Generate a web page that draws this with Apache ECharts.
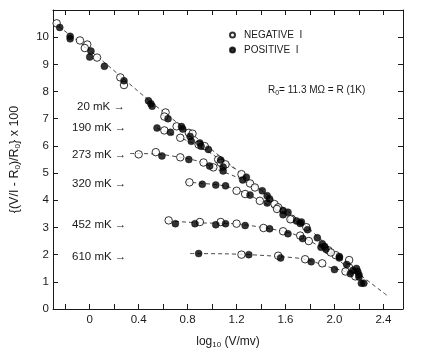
<!DOCTYPE html>
<html>
<head>
<meta charset="utf-8">
<script src="https://cdn.jsdelivr.net/npm/echarts@6/dist/echarts.min.js"></script>
<style>html,body{margin:0;padding:0;background:#fff}#c{width:430px;height:354px}</style>
</head>
<body>
<div id="c"></div>
<script>
// ---- data ----
const xTicks = [-0.2,0,0.2,0.4,0.6,0.8,1.0,1.2,1.4,1.6,1.8,2.0,2.2,2.4];
const xLabels = [0,0.4,0.8,1.2,1.6,2.0,2.4];
const yLabels = [0,1,2,3,4,5,6,7,8,9,10];
const tempLabels = ['20 mK','190 mK','273 mK','320 mK','452 mK','610 mK'];

const fit20mK  = [[-0.3,10.55],[0,9.52],[0.5,7.62],[1.0,5.85],[1.5,4.02],[1.78,3.0],[2.0,2.1],[2.2,1.3],[2.43,0.5]];
const fit190mK = [[0.55,6.66],[0.75,6.28],[0.9,5.98],[1.05,5.55],[1.2,5.12]];
const fit273mK = [[0.33,5.72],[0.55,5.7],[0.75,5.57],[0.9,5.42],[1.05,5.12],[1.2,4.85],[1.4,4.38]];
const fit320mK = [[0.78,4.67],[0.9,4.63],[1.1,4.53],[1.25,4.3],[1.4,3.97],[1.55,3.6],[1.75,3.08]];
const fit452mK = [[0.64,3.24],[0.9,3.17],[1.2,3.13],[1.45,2.97],[1.65,2.78],[1.8,2.5],[1.95,2.08],[2.1,1.55],[2.24,0.95]];
const fit610mK = [[0.82,2.04],[1.1,2.03],[1.3,2.0],[1.55,1.93],[1.76,1.83],[1.95,1.55],[2.1,1.35],[2.24,0.92]];

const negative20mK = [[-0.27,10.51],[-0.08,9.88],[-0.02,9.73],[-0.04,9.6],[0.06,9.25],[0.25,8.52],[0.28,8.24],[0.62,7.23],[0.61,7.08],[0.71,6.72],[0.81,6.48],[0.84,6.45],[0.94,5.99],[1.05,5.5],[1.07,5.38],[1.24,4.96],[1.31,4.62],[1.35,4.47],[1.51,3.86],[1.54,3.74],[1.65,3.32],[1.77,3.01],[1.95,2.16],[2.01,1.98],[2.12,1.8]];
const positive20mK = [[-0.245,10.36],[-0.16,10.03],[-0.16,9.94],[0.01,9.49],[0.0,9.27],[0.12,8.93],[0.28,8.4],[0.48,7.66],[0.5,7.55],[0.51,7.46],[0.64,7.0],[0.75,6.71],[0.76,6.62],[0.82,6.35],[0.9,6.11],[0.91,5.99],[0.97,5.87],[1.09,5.22],[1.25,4.75],[1.28,4.85],[1.41,4.35],[1.45,4.17],[1.47,4.05],[1.58,3.62],[1.62,3.56],[1.69,3.24],[1.73,3.2],[1.78,2.92],[1.86,2.62],[1.9,2.4],[1.92,2.3],[1.93,2.2],[2.04,1.93],[2.1,1.64],[2.18,1.49],[2.19,1.38],[2.2,1.26]];
const negative190mK = [[0.61,6.57],[0.74,6.3],[0.89,6.05],[1.11,5.32]];
const positive190mK = [[0.55,6.66],[0.66,6.5],[0.83,6.17],[1.07,5.48]];
const negative273mK = [[0.4,5.69],[0.54,5.77],[0.74,5.58],[0.93,5.39],[1.01,5.21]];
const positive273mK = [[0.59,5.63],[0.81,5.5],[0.98,5.26],[1.09,5.08]];
const negative320mK = [[0.815,4.66],[1.2,4.35],[1.27,4.23],[1.39,3.98],[1.53,3.68],[1.64,3.3]];
const positive320mK = [[0.92,4.59],[1.03,4.56],[1.11,4.53],[1.31,4.19],[1.45,3.9],[1.58,3.47],[1.72,3.15]];
const negative452mK = [[0.645,3.26],[0.9,3.2],[1.07,3.2],[1.2,3.14],[1.42,2.98],[1.58,2.86],[1.72,2.7],[1.79,2.5],[1.97,2.08],[2.12,1.52]];
const positive452mK = [[0.7,3.14],[0.86,3.14],[1.03,3.1],[1.11,3.14],[1.27,3.07],[1.47,2.95],[1.62,2.77],[1.74,2.59],[1.89,2.27],[2.04,1.88],[2.15,1.42],[2.2,1.18],[2.24,0.95]];
const negative610mK = [[1.24,2.0],[1.54,1.96],[1.76,1.83],[1.9,1.68],[2.09,1.38],[2.17,1.2]];
const positive610mK = [[0.89,2.04],[1.3,2.0],[1.56,1.88],[1.81,1.74],[2.0,1.45],[2.13,1.3],[2.22,0.95]];

// ---- chart ----
const FONT = 'Liberation Sans, Arial, sans-serif';
const INK = '#1a1a1a';
const chart = echarts.init(document.getElementById('c'), null, {renderer: 'canvas'});

const fits = [fit20mK, fit190mK, fit273mK, fit320mK, fit452mK, fit610mK];
const negAll = [].concat(negative20mK, negative190mK, negative273mK, negative320mK, negative452mK, negative610mK);
const posAll = [].concat(positive20mK, positive190mK, positive273mK, positive320mK, positive452mK, positive610mK);

const lineSeries = fits.map(d => ({
  type: 'line', data: d, smooth: 0.3, symbol: 'none', silent: true,
  lineStyle: {color: '#333', width: 0.9, type: [4, 3]}, z: 2
}));

const labelY = [107, 128, 155, 184, 225, 257];
const labelX = [77, 72, 72, 72, 72, 72];
const tempGraphics = tempLabels.map((t, i) => ({
  type: 'text', x: labelX[i], y: labelY[i],
  style: {text: t + ' \u2192', font: '11.5px ' + FONT, fill: INK, align: 'left', verticalAlign: 'middle'}
}));

const commonX = {
  type: 'value', min: -0.3, max: 2.56,
  splitLine: {show: false},
  axisLine: {show: true, onZero: false, lineStyle: {color: INK, width: 1}},
  axisTick: {show: true, inside: true, length: 5, customValues: xTicks, lineStyle: {color: INK}},
};
const commonY = {
  type: 'value', min: 0, max: 11,
  splitLine: {show: false},
  axisLine: {show: true, onZero: false, lineStyle: {color: INK, width: 1}},
  axisTick: {show: true, inside: true, length: 5, customValues: yLabels, lineStyle: {color: INK}},
};

chart.setOption({
  animation: false,
  backgroundColor: '#fff',
  grid: {left: 52, right: 27, top: 10, bottom: 43},
  xAxis: [
    Object.assign({}, commonX, {
      position: 'bottom',
      axisLabel: {show: true, customValues: xLabels, margin: 5, color: INK, fontFamily: FONT, fontSize: 11.5,
        formatter: v => (Math.abs(v) < 1e-9 ? '0' : v.toFixed(1))},
      name: 'log{sub|10} (V/mv)', nameLocation: 'middle', nameGap: 25,
      nameTextStyle: {color: INK, fontFamily: FONT, fontSize: 12,
        rich: {sub: {fontSize: 8, verticalAlign: 'bottom', padding: [7, 0, 0, 0], fontFamily: FONT, color: INK}}}
    }),
    Object.assign({}, commonX, {position: 'top', axisLabel: {show: false}})
  ],
  yAxis: [
    Object.assign({}, commonY, {
      position: 'left',
      axisLabel: {show: true, customValues: yLabels, margin: 4, color: INK, fontFamily: FONT, fontSize: 11.5},
      name: '{(V/I - R{sub|0})/R{sub|0}} x 100', nameLocation: 'middle', nameGap: 31, nameRotate: 90,
      nameTextStyle: {color: INK, fontFamily: FONT, fontSize: 12.5,
        rich: {sub: {fontSize: 8, padding: [7, 0, 0, 0], fontFamily: FONT, color: INK}}}
    }),
    Object.assign({}, commonY, {position: 'right', axisLabel: {show: false}})
  ],
  legend: {
    orient: 'vertical', left: 224, top: 25, itemWidth: 5, itemHeight: 5, itemGap: 5,
    icon: 'circle',
    textStyle: {color: INK, fontFamily: FONT, fontSize: 10, padding: [0, 0, 0, 4]},
    data: ['NEGATIVE  I', 'POSITIVE  I'],
    selectedMode: false
  },
  graphic: [
    {type: 'text', x: 268, y: 90,
     style: {text: 'R{sub|0}= 11.3 M\u03A9 = R (1K)', font: '10px ' + FONT, fill: INK, verticalAlign: 'middle',
       rich: {sub: {fontSize: 7, padding: [6, 0, 0, 0], fill: INK, fontFamily: FONT}}}}
  ].concat(tempGraphics),
  series: lineSeries.concat([
    {name: 'NEGATIVE  I', type: 'scatter', data: negAll, symbol: 'circle', symbolSize: 7.5, z: 4,
     itemStyle: {color: '#fff', borderColor: '#000', borderWidth: 1}},
    {name: 'POSITIVE  I', type: 'scatter', data: posAll, symbol: 'circle', symbolSize: 7, z: 5,
     itemStyle: {color: '#000', borderColor: '#000', borderWidth: 0.5}}
  ])
});
</script>
</body>
</html>
